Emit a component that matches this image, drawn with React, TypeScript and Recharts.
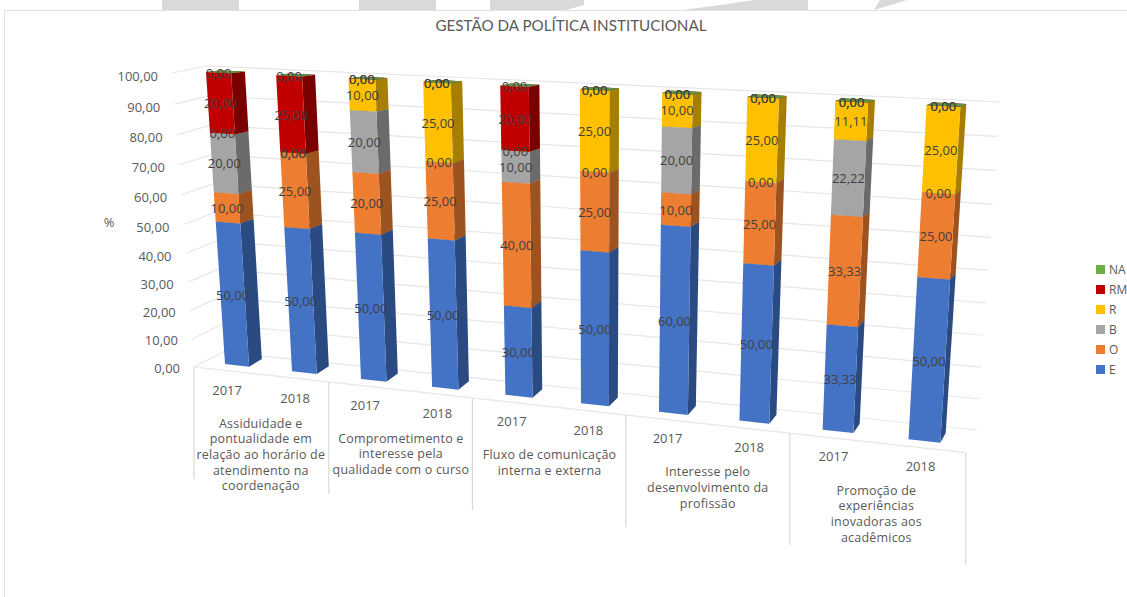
import React from "react";
import { BarChart, Bar, XAxis, YAxis, CartesianGrid, LabelList, Legend } from "recharts";

const years = ["2017", "2018", "2017", "2018", "2017", "2018", "2017", "2018", "2017", "2018"];
const groupLines = [
  ["Assiduidade e", "pontualidade em", "relação ao horário de", "atendimento na", "coordenação"],
  ["Comprometimento e", "interesse pela", "qualidade com o curso"],
  ["Fluxo de comunicação", "interna e externa"],
  ["Interesse pelo", "desenvolvimento da", "profissão"],
  ["Promoção de", "experiências", "inovadoras aos", "acadêmicos"],
];
const E = [50, 50, 50, 50, 30, 50, 60, 50, 33.33, 50];
const O = [10, 25, 20, 25, 40, 25, 10, 25, 33.33, 25];
const B = [20, 0, 20, 0, 10, 0, 20, 0, 22.22, 0];
const R = [0, 0, 10, 25, 0, 25, 10, 25, 11.11, 25];
const RM = [20, 25, 0, 0, 20, 0, 0, 0, 0, 0];
const NA = [0, 0, 0, 0, 0, 0, 0, 0, 0, 0];
const yTicks = [0, 10, 20, 30, 40, 50, 60, 70, 80, 90, 100];

const seriesNames = ["E", "O", "B", "R", "RM", "NA"];
const seriesValues = [E, O, B, R, RM, NA];
const seriesColors = ["#4472C4", "#ED7D31", "#A5A5A5", "#FFC000", "#C00000", "#70AD47"];
const sideColors = ["#2A4A82", "#9C531F", "#6B6B6B", "#A67E00", "#7A0000", "#5F9440"];

const data = years.map((year, i) => {
  const row: Record<string, any> = { year };
  seriesNames.forEach((n, k) => (row[n] = seriesValues[k][i]));
  return row;
});

type P = [number, number];
function makeQuad(p00: P, p10: P, p01: P, p11: P) {
  const [x0, y0] = p00, [x1, y1] = p10, [x2, y2] = p11, [x3, y3] = p01;
  const dx1 = x1 - x2, dx2 = x3 - x2, sx = x0 - x1 + x2 - x3;
  const dy1 = y1 - y2, dy2 = y3 - y2, sy = y0 - y1 + y2 - y3;
  const den = dx1 * dy2 - dx2 * dy1;
  const g = (sx * dy2 - dx2 * sy) / den;
  const h = (dx1 * sy - sx * dy1) / den;
  const a = x1 - x0 + g * x1, b = x3 - x0 + h * x3;
  const d = y1 - y0 + g * y1, e = y3 - y0 + h * y3;
  return (s: number, t: number): P => {
    const w = g * s + h * t + 1;
    return [(a * s + b * t + x0) / w, (d * s + e * t + y0) / w];
  };
}

// Plot rectangle in the chart's flat coordinates, then the perspective planes it is projected on.
const plotL = 170, plotT = 60, plotW = 800, plotH = 300;
const plotB = plotT + plotH;
const gapPct = 31.7;
const barFrac = (1 - (2 * gapPct) / 100) / 10;
const u1 = 0.05 - barFrac / 2, u2 = 0.95 + barFrac / 2;

const frontPlane = makeQuad([225, 364], [940.7, 442.7], [206, 72], [960.7, 106.7]);
const backPlane = makeQuad([238, 356.3], [946, 433], [220, 70.4], [966.7, 104]);
const edgePlane = makeQuad([194, 367], [965.7, 452.7], [172, 73], [998, 108]);
const wallPlane = makeQuad([223, 352], [977, 430], [207, 66], [1000, 102]);

const toS = (px: number) => ((px - plotL) / plotW - u1) / (u2 - u1);
const toU = (px: number) => (px - plotL) / plotW;
const toT = (py: number) => (plotB - py) / plotH;
const pts = (list: P[]) => list.map((p) => `${p[0].toFixed(2)},${p[1].toFixed(2)}`).join(" ");

const txt = "#595959";
const font = "'Open Sans', sans-serif";

function makeSegment(k: number) {
  return function Segment(props: any) {
    const { x, y, width, height } = props;
    const sL = toS(x), sR = toS(x + width);
    const tB = toT(y + height), tT = toT(y);
    return (
      <g>
        <polygon
          points={pts([frontPlane(sR, tB), backPlane(sR, tB), backPlane(sR, tT), frontPlane(sR, tT)])}
          fill={sideColors[k]}
        />
        <polygon
          points={pts([frontPlane(sL, tT), frontPlane(sR, tT), backPlane(sR, tT), backPlane(sL, tT)])}
          fill={sideColors[k]}
        />
        <polygon
          points={pts([frontPlane(sL, tB), frontPlane(sR, tB), frontPlane(sR, tT), frontPlane(sL, tT)])}
          fill={seriesColors[k]}
        />
      </g>
    );
  };
}

function renderValue(props: any) {
  const { x, y, width, height, value } = props;
  const [px, py] = frontPlane(toS(x + width / 2), toT(y + height / 2));
  return (
    <text x={px} y={py} textAnchor="middle" dominantBaseline="central" fontSize={13} fontFamily={font} fill="#404040">
      {Number(value).toFixed(2).replace(".", ",")}
    </text>
  );
}

function GridLine(props: any) {
  const t = toT(props.y1);
  const a = edgePlane(0, t), b = wallPlane(0, t), c = wallPlane(1, t);
  return (
    <polyline
      key={props.key ?? props.index}
      points={pts([a, b, c])}
      fill="none"
      stroke="#E6E6E6"
      strokeWidth={1.2}
    />
  );
}

function YTick(props: any) {
  const t = toT(props.y);
  const [px, py] = edgePlane(0, t);
  return (
    <text x={px - 14} y={py + 1 + 2 * t} textAnchor="end" dominantBaseline="central" fontSize={13} fontFamily={font} fill={txt}>
      {Number(props.payload.value).toFixed(2).replace(".", ",")}
    </text>
  );
}

function XTick(props: any) {
  const i = props.payload.index as number;
  const u = toU(props.x);
  const [bx, by] = frontPlane(toS(props.x), 0);
  const shift = -10 + (6 * i) / 9;
  const divider = (bandStart: number) => {
    const [dx, dy] = edgePlane(bandStart, 0);
    return <line x1={dx} y1={dy} x2={dx} y2={dy + 112} stroke="#D9D9D9" strokeWidth={1.2} />;
  };
  let group = null;
  if (i % 2 === 0) {
    const g = i / 2;
    const next = frontPlane(toS(props.x + plotW / 10), 0);
    const gx = (bx + next[0]) / 2 - 10 + g * 1.25;
    const gy = (by + next[1]) / 2 + 54;
    group = (
      <g>
        {groupLines[g].map((line, n) => (
          <text key={n} x={gx} y={gy + n * 15.7} textAnchor="middle" dominantBaseline="central" fontSize={12.5} letterSpacing={0.2} fontFamily={font} fill={txt}>
            {line}
          </text>
        ))}
        {divider(u - 0.05)}
        {i === 8 ? divider(1) : null}
        {i === 0 ? (
          <line
            x1={edgePlane(0, 0)[0]}
            y1={edgePlane(0, 0)[1]}
            x2={edgePlane(1, 0)[0]}
            y2={edgePlane(1, 0)[1]}
            stroke="#E6E6E6"
            strokeWidth={1.2}
          />
        ) : null}
      </g>
    );
  }
  return (
    <g>
      <text x={bx + shift} y={by + 25} textAnchor="middle" dominantBaseline="central" fontSize={13} fontFamily={font} fill={txt}>
        {props.payload.value}
      </text>
      {group}
    </g>
  );
}

function LegendBox(props: any) {
  const items = [...(props.payload || [])].reverse();
  return (
    <div style={{ fontFamily: font, fontSize: 12, color: txt }}>
      {items.map((it: any) => (
        <div key={it.value} style={{ display: "flex", alignItems: "center", height: 20, whiteSpace: "nowrap" }}>
          <span style={{ width: 9, height: 9, background: it.color, marginRight: 4, flex: "none" }} />
          <span>{it.value}</span>
        </div>
      ))}
    </div>
  );
}

const blocks = [
  "162,0 239,0 239,10 162,10",
  "359,0 436,0 436,10 359,10",
  "490,0 584,0 584,5 566,10 490,10",
  "755,0 808,0 808,10 683,10 720,5",
  "880,0 907,0 874,10",
];

export default function App() {
  return (
    <div style={{ position: "absolute", left: 0, top: 0, width: 1127, height: 597, overflow: "hidden", background: "#fff" }}>
      <svg width={1127} height={12} style={{ position: "absolute", left: 0, top: 0 }}>
        {blocks.map((b) => (
          <polygon key={b} points={b} fill="#D9D9D9" />
        ))}
      </svg>
      <div style={{ position: "absolute", left: 4, top: 10, width: 1123, height: 587, borderTop: "1px solid #E2E2E2", borderLeft: "1px solid #E2E2E2", boxSizing: "border-box" }} />
      <div style={{ position: "absolute", left: 0, width: 1142, top: 16, textAlign: "center", fontFamily: "Lato, sans-serif", fontSize: 15.2, lineHeight: "18px", color: txt }}>
        GESTÃO DA POLÍTICA INSTITUCIONAL
      </div>
      <div style={{ position: "absolute", left: 0, top: 0 }}>
        <BarChart
          width={1127}
          height={597}
          data={data}
          barCategoryGap={`${gapPct}%`}
          margin={{ left: 110, top: plotT, right: 1127 - plotL - plotW, bottom: 597 - plotB - 20 }}
        >
          <CartesianGrid vertical={false} horizontal={GridLine as any} />
          <XAxis dataKey="year" interval={0} height={20} axisLine={false} tickLine={false} tick={XTick as any} />
          <YAxis
            type="number"
            domain={[0, 100]}
            ticks={yTicks}
            width={60}
            axisLine={false}
            tickLine={false}
            tick={YTick as any}
            label={{
              content: () => (
                <text x={109} y={222} textAnchor="middle" dominantBaseline="central" fontSize={13} fontFamily={font} fill={txt}>
                  %
                </text>
              ),
            }}
          />
          {seriesNames.map((n, k) => (
            <Bar key={n} dataKey={n} name={n} stackId="a" fill={seriesColors[k]} isAnimationActive={false} shape={makeSegment(k) as any}>
              <LabelList dataKey={n} content={renderValue as any} />
            </Bar>
          ))}
          <Legend
            layout="vertical"
            align="center"
            verticalAlign="middle"
            itemSorter={null}
            content={LegendBox as any}
            wrapperStyle={{ position: "absolute", left: 1096, top: 259, width: 31, height: 120 }}
          />
        </BarChart>
      </div>
    </div>
  );
}
